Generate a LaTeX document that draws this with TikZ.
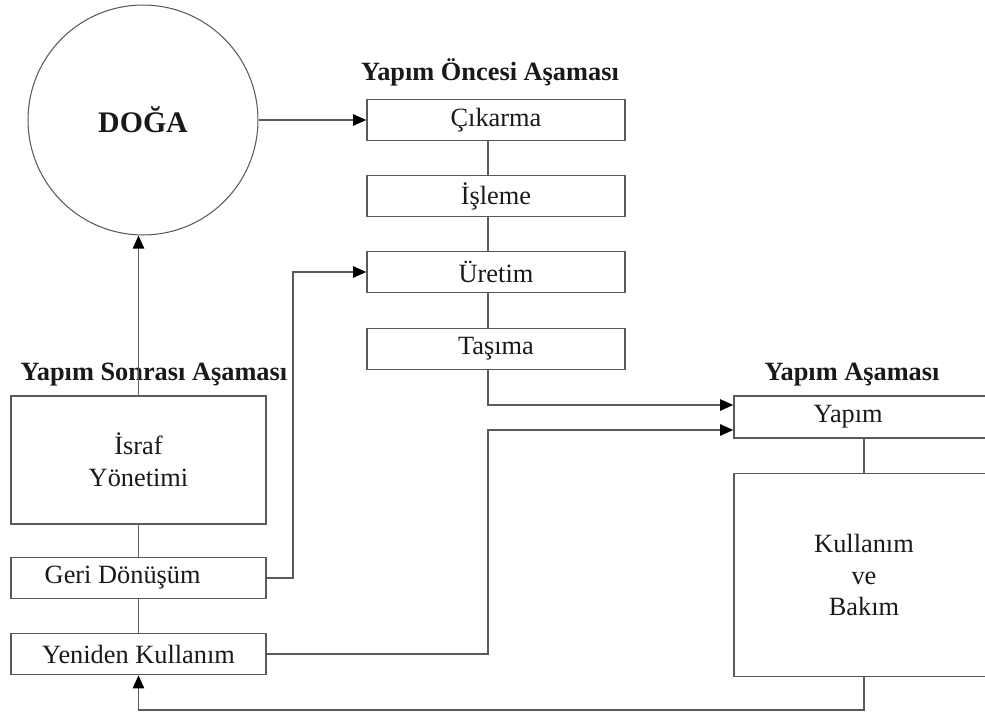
\documentclass[tikz,border=0pt]{standalone}
\usepackage{fontspec}
\setmainfont{Liberation Serif}
\usetikzlibrary{arrows.meta}
\definecolor{linegray}{RGB}{90,90,90}
\definecolor{textgray}{RGB}{25,25,25}
\tikzset{
  cycle/.style={x=0.02cm,y=-0.02cm,font=\fontsize{15}{18}\selectfont,>={Triangle[length=7.5pt,width=6.5pt,color=black]}},
  stage/.style={draw=linegray,line width=0.9pt,align=center,text=textgray,inner sep=2pt},
  leftbox/.style={stage,minimum width=5.1cm,minimum height=0.82cm},
  midbox/.style={stage,minimum width=5.16cm,minimum height=0.82cm},
  rightbox/.style={stage,minimum width=5.2cm,minimum height=0.84cm},
  phase/.style={font=\fontsize{15}{18}\selectfont\bfseries,text=textgray},
  link/.style={draw=linegray,line width=0.9pt},
  flow/.style={link,->},
}
\begin{document}
\begin{tikzpicture}[cycle]
\useasboundingbox (0,0) rectangle (985,717);
\clip (0,0) rectangle (985,717);
% nature
\node[stage,circle,minimum size=4.6cm,line width=0.6pt,font=\fontsize{17}{20}\selectfont\bfseries] (doga) at (143,120) {DOĞA};
% pre-construction
\node[phase] (oncesi) at (490,72) {Yapım Öncesi Aşaması};
\node[midbox] (cikarma) at (496,120) {Çıkarma};
\node[midbox] (isleme) at (496,196) {İşleme};
\node[midbox] (uretim) at (496,272) {Üretim};
\node[midbox] (tasima) at (496,349) {Taşıma};
\coordinate (mid) at (488,0);
% post-construction
\node[phase] (sonrasi) at (154,375) {Yapım Sonrası Aşaması};
\node[leftbox,minimum height=2.56cm] (israf) at (138.5,460) {İsraf\\Yönetimi};
\node[leftbox] (geri) at (138.5,578) {Geri Dönüşüm\hspace*{1.2em}};
\node[leftbox] (yeniden) at (138.5,654) {Yeniden Kullanım};
% construction
\node[phase] (asama) at (852,375) {Yapım Aşaması};
\node[rightbox] (yapim) at (864,417) {Yapım\hspace*{1.2em}};
\node[rightbox,minimum height=4.06cm] (kullanim) at (864,575) {Kullanım\\ve\\Bakım};
% connectors
\draw[flow] (doga.east) -- (cikarma.west);
\foreach \a/\b in {cikarma/isleme,isleme/uretim,uretim/tasima} {
  \draw[link] (\a.south -| mid) -- (\b.north -| mid);
}
\draw[link] (israf.south) -- (geri.north);
\draw[link] (geri.south) -- (yeniden.north);
\draw[link] (yapim.south) -- (kullanim.north);
\draw[flow] (israf.north) -- (israf.north |- doga.south);
\draw[flow] (geri.east) -- ++(26,0) |- (uretim.west);
\draw[flow] (tasima.south -| mid) |- ([yshift=0.24cm]yapim.west);
\draw[flow] (yeniden.east) -- (yeniden.east -| mid) |- ([yshift=-0.26cm]yapim.west);
\draw[flow] (kullanim.south) -- ++(0,33) -| (yeniden.south);
\end{tikzpicture}
\end{document}
